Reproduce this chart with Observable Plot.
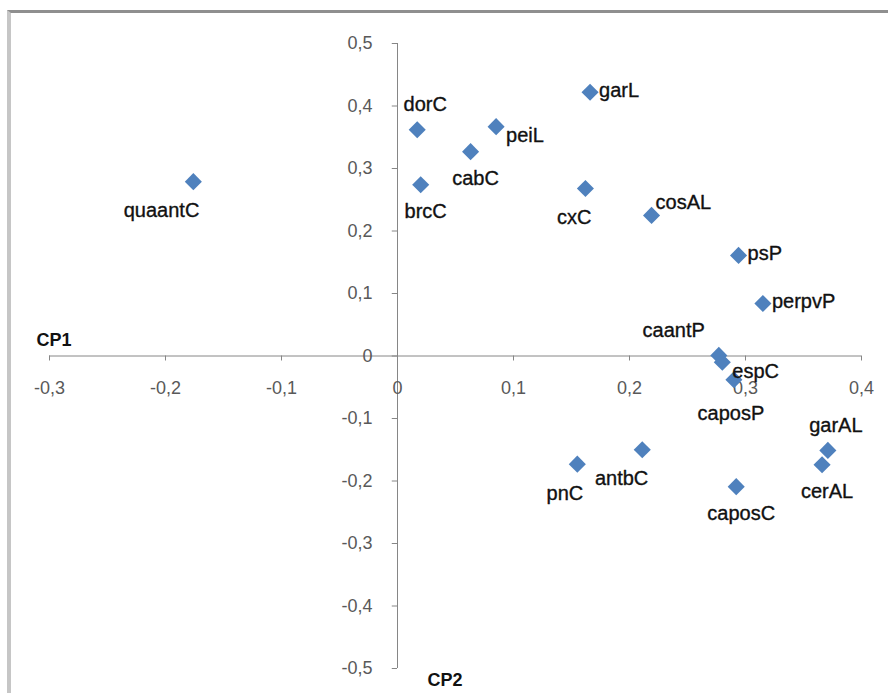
<!DOCTYPE html>
<html>
<head>
<meta charset="utf-8">
<script src="https://cdn.jsdelivr.net/npm/d3@7"></script>
<script src="https://cdn.jsdelivr.net/npm/@observablehq/plot@0.6"></script>
<style>
  html, body { margin: 0; padding: 0; background: #fff; overflow: hidden; }
  #wrap { position: relative; width: 888px; height: 693px; }
  #frame { position: absolute; left: 7px; top: 10px; width: 900px; height: 700px;
           border-top: 3px solid #8f8f8f; border-left: 4px solid #c6c6c6; pointer-events: none; }
</style>
</head>
<body>
<div id="wrap"><div id="chart"></div><div id="frame"></div></div>
<script>
// Variable names
const names = ["garL","dorC","peiL","cabC","brcC","cxC","cosAL","quaantC","psP","perpvP",
               "caantP","espC","caposP","garAL","cerAL","caposC","antbC","pnC"];
// CP1 loadings (horizontal)
const cp1 = [0.166, 0.017, 0.085, 0.063, 0.020, 0.162, 0.219, -0.176, 0.294, 0.315,
             0.277, 0.280, 0.290, 0.371, 0.366, 0.292, 0.211, 0.155];
// CP2 loadings (vertical)
const cp2 = [0.422, 0.362, 0.367, 0.327, 0.274, 0.268, 0.225, 0.279, 0.161, 0.084,
             0.001, -0.010, -0.038, -0.151, -0.174, -0.209, -0.150, -0.173];
// Label placement keyword for each point
const labelPlacement = ["right","above","rightLow","below","below","belowLeft","aboveRight","belowLeft","right","right",
                        "aboveLeft","rightLow","belowFar","above","below","below","belowLeft","belowLeft"];
// Axis ticks and titles
const xTicks = [-0.3, -0.2, -0.1, 0, 0.1, 0.2, 0.3, 0.4];
const yTicks = [-0.5, -0.4, -0.3, -0.2, -0.1, 0, 0.1, 0.2, 0.3, 0.4, 0.5];
const xTitle = "CP1";
const yTitle = "CP2";

const points = names.map((n, i) => ({name: n, x: cp1[i], y: cp2[i], place: labelPlacement[i]}));
const fmt = d => d === 0 ? "0" : d.toFixed(1).replace(".", ",");
const xDom = [d3.min(xTicks), d3.max(xTicks)];
const yDom = [d3.min(yTicks), d3.max(yTicks)];

const placeStyle = {
  right:      {dx: 9,   dy: -2,  textAnchor: "start"},
  rightLow:   {dx: 10,  dy: 9,   textAnchor: "start"},
  above:      {dx: 8,   dy: -25, textAnchor: "middle"},
  below:      {dx: 5,   dy: 27,  textAnchor: "middle"},
  belowFar:   {dx: -3,  dy: 34,  textAnchor: "middle"},
  belowLeft:  {dx: 6,   dy: 29,  textAnchor: "end"},
  aboveRight: {dx: 4,   dy: -13, textAnchor: "start"},
  aboveLeft:  {dx: -14, dy: -25, textAnchor: "end"}
};
const labelMarks = Object.entries(placeStyle).map(([key, s]) =>
  Plot.text(points.filter(p => p.place === key), {
    x: "x", y: "y", text: "name", fill: "#111", stroke: "#111", strokeWidth: 0.35,
    fontSize: 20, ...s
  })
);

const axisColor = "#868686";
const chart = Plot.plot({
  width: 888,
  height: 693,
  marginLeft: 49,
  marginRight: 27,
  marginTop: 43,
  marginBottom: 25,
  x: {domain: xDom, axis: null},
  y: {domain: yDom, axis: null},
  style: {fontFamily: "'Liberation Sans', Arial, sans-serif", background: "transparent", overflow: "visible"},
  marks: [
    Plot.ruleY([0], {y: d => d, x1: () => xDom[0], x2: () => xDom[1], stroke: axisColor, strokeWidth: 1}),
    Plot.ruleX([0], {x: d => d, y1: () => yDom[0], y2: () => yDom[1], stroke: axisColor, strokeWidth: 1}),
    Plot.ruleX(xTicks, {x: d => d, y1: () => 0, y2: () => -0.008, stroke: axisColor}),
    Plot.ruleY(yTicks, {y: d => d, x1: () => -0.0045, x2: () => 0, stroke: axisColor}),
    Plot.text(xTicks, {x: d => d, y: () => 0, text: d => fmt(d), dy: 32, fill: "#595959", fontSize: 18, textAnchor: "middle"}),
    Plot.text(yTicks, {x: () => 0, y: d => d, text: d => fmt(d), dx: -25, fill: "#595959", fontSize: 18, textAnchor: "end"}),
    Plot.text([xTitle], {x: () => xDom[0], y: () => 0, text: d => d, dx: -13, dy: -16, textAnchor: "start", fontWeight: "bold", fontSize: 18, fill: "#111"}),
    Plot.text([yTitle], {x: () => 0, y: () => yDom[0], text: d => d, dx: 30, dy: 12, textAnchor: "start", fontWeight: "bold", fontSize: 18, fill: "#111"}),
    Plot.dot(points, {x: "x", y: "y", symbol: "diamond2", r: 7.7, fill: "#4f81bd", stroke: "none"}),
    ...labelMarks
  ]
});
document.getElementById("chart").appendChild(chart);
</script>
</body>
</html>
